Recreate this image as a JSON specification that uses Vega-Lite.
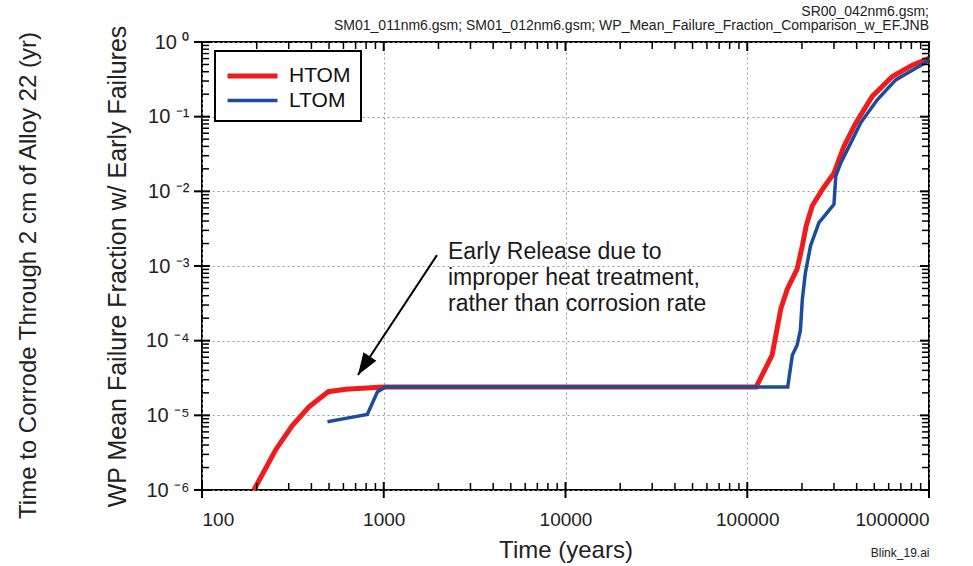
{
  "$schema": "https://vega.github.io/schema/vega-lite/v6.json",
  "width": 727,
  "height": 448,
  "autosize": {"type": "none"},
  "padding": {"left": 202, "top": 42, "right": 44, "bottom": 76},
  "background": "white",
  "title": {
    "text": ["SR00_042nm6.gsm;", "SM01_011nm6.gsm; SM01_012nm6.gsm; WP_Mean_Failure_Fraction_Comparison_w_EF.JNB"],
    "anchor": "end",
    "frame": "group",
    "fontSize": 14,
    "lineHeight": 14,
    "fontWeight": "normal",
    "font": "Liberation Sans",
    "color": "#222222",
    "offset": 6,
    "dy": 14
  },
  "config": {
    "view": {"stroke": "black", "strokeWidth": 2},
    "axis": {
      "labelFont": "Liberation Sans",
      "titleFont": "Liberation Sans",
      "titleFontWeight": "normal",
      "labelColor": "#222222",
      "titleColor": "#222222",
      "tickColor": "black",
      "domain": false,
      "grid": false
    },
    "legend": {
      "orient": "none",
      "legendX": 13,
      "legendY": 9,
      "padding": 10,
      "strokeColor": "black",
      "strokeWidth": 2,
      "fillColor": "white",
      "labelFont": "Liberation Sans",
      "labelFontSize": 21,
      "labelColor": "#111111",
      "labelOffset": 34,
      "rowPadding": 0,
      "symbolType": "M-1,0L3,0",
      "symbolSize": 625,
      "symbolStrokeWidth": 4.5
    }
  },
  "datasets": {
    "curves": [
      {"series": "HTOM", "t": 193, "f": 1e-6},
      {"series": "HTOM", "t": 254, "f": 3.44e-6},
      {"series": "HTOM", "t": 314, "f": 7.3e-6},
      {"series": "HTOM", "t": 388, "f": 1.3e-5},
      {"series": "HTOM", "t": 495, "f": 2.07e-5},
      {"series": "HTOM", "t": 617, "f": 2.24e-5},
      {"series": "HTOM", "t": 1000, "f": 2.4e-5},
      {"series": "HTOM", "t": 112000, "f": 2.4e-5},
      {"series": "HTOM", "t": 137000, "f": 6.4e-5},
      {"series": "HTOM", "t": 153000, "f": 2.67e-4},
      {"series": "HTOM", "t": 166000, "f": 4.9e-4},
      {"series": "HTOM", "t": 188000, "f": 9.1e-4},
      {"series": "HTOM", "t": 201000, "f": 1.87e-3},
      {"series": "HTOM", "t": 211000, "f": 3.45e-3},
      {"series": "HTOM", "t": 228000, "f": 6.4e-3},
      {"series": "HTOM", "t": 259000, "f": 1.06e-2},
      {"series": "HTOM", "t": 300000, "f": 1.75e-2},
      {"series": "HTOM", "t": 320000, "f": 2.67e-2},
      {"series": "HTOM", "t": 340000, "f": 0.040},
      {"series": "HTOM", "t": 395000, "f": 0.082},
      {"series": "HTOM", "t": 487000, "f": 0.187},
      {"series": "HTOM", "t": 628000, "f": 0.345},
      {"series": "HTOM", "t": 809000, "f": 0.49},
      {"series": "HTOM", "t": 1000000, "f": 0.606},
      {"series": "LTOM", "t": 490, "f": 8.2e-6},
      {"series": "LTOM", "t": 617, "f": 9.1e-6},
      {"series": "LTOM", "t": 812, "f": 1.03e-5},
      {"series": "LTOM", "t": 923, "f": 2.07e-5},
      {"series": "LTOM", "t": 1024, "f": 2.4e-5},
      {"series": "LTOM", "t": 167000, "f": 2.4e-5},
      {"series": "LTOM", "t": 177000, "f": 6.4e-5},
      {"series": "LTOM", "t": 188000, "f": 8.7e-5},
      {"series": "LTOM", "t": 196000, "f": 1.37e-4},
      {"series": "LTOM", "t": 201000, "f": 3.6e-4},
      {"series": "LTOM", "t": 209000, "f": 8.2e-4},
      {"series": "LTOM", "t": 223000, "f": 1.87e-3},
      {"series": "LTOM", "t": 248000, "f": 3.8e-3},
      {"series": "LTOM", "t": 300000, "f": 6.7e-3},
      {"series": "LTOM", "t": 307000, "f": 1.6e-2},
      {"series": "LTOM", "t": 327000, "f": 2.4e-2},
      {"series": "LTOM", "t": 363000, "f": 0.040},
      {"series": "LTOM", "t": 420000, "f": 0.082},
      {"series": "LTOM", "t": 519000, "f": 0.168},
      {"series": "LTOM", "t": 656000, "f": 0.311},
      {"series": "LTOM", "t": 845000, "f": 0.446},
      {"series": "LTOM", "t": 1000000, "f": 0.563}
    ],
    "xmajor": [{"v": 100}, {"v": 1000}, {"v": 10000}, {"v": 100000}, {"v": 1000000}],
    "xminor": [
      {"v": 200}, {"v": 300}, {"v": 400}, {"v": 500}, {"v": 600}, {"v": 700}, {"v": 800}, {"v": 900},
      {"v": 2000}, {"v": 3000}, {"v": 4000}, {"v": 5000}, {"v": 6000}, {"v": 7000}, {"v": 8000}, {"v": 9000},
      {"v": 20000}, {"v": 30000}, {"v": 40000}, {"v": 50000}, {"v": 60000}, {"v": 70000}, {"v": 80000}, {"v": 90000},
      {"v": 200000}, {"v": 300000}, {"v": 400000}, {"v": 500000}, {"v": 600000}, {"v": 700000}, {"v": 800000}, {"v": 900000}
    ],
    "ymajor": [{"v": 1}, {"v": 0.1}, {"v": 0.01}, {"v": 0.001}, {"v": 0.0001}, {"v": 0.00001}, {"v": 0.000001}],
    "yminor": [
      {"v": 2e-6}, {"v": 3e-6}, {"v": 4e-6}, {"v": 5e-6}, {"v": 6e-6}, {"v": 7e-6}, {"v": 8e-6}, {"v": 9e-6},
      {"v": 2e-5}, {"v": 3e-5}, {"v": 4e-5}, {"v": 5e-5}, {"v": 6e-5}, {"v": 7e-5}, {"v": 8e-5}, {"v": 9e-5},
      {"v": 2e-4}, {"v": 3e-4}, {"v": 4e-4}, {"v": 5e-4}, {"v": 6e-4}, {"v": 7e-4}, {"v": 8e-4}, {"v": 9e-4},
      {"v": 2e-3}, {"v": 3e-3}, {"v": 4e-3}, {"v": 5e-3}, {"v": 6e-3}, {"v": 7e-3}, {"v": 8e-3}, {"v": 9e-3},
      {"v": 2e-2}, {"v": 3e-2}, {"v": 4e-2}, {"v": 5e-2}, {"v": 6e-2}, {"v": 7e-2}, {"v": 8e-2}, {"v": 9e-2},
      {"v": 0.2}, {"v": 0.3}, {"v": 0.4}, {"v": 0.5}, {"v": 0.6}, {"v": 0.7}, {"v": 0.8}, {"v": 0.9}
    ]
  },
  "resolve": {"axis": {"x": "independent", "y": "independent"}},
  "layer": [
    {
      "data": {"name": "curves"},
      "mark": {"type": "line", "interpolate": "linear"},
      "encoding": {
        "x": {
          "field": "t", "type": "quantitative",
          "scale": {"type": "log", "domain": [100, 1000000], "nice": false},
          "axis": {
            "orient": "bottom",
            "values": [100, 1000, 10000, 100000, 1000000],
            "labelExpr": "format(datum.value, 'd')",
            "labelFontSize": 19,
            "labelPadding": 20,
            "ticks": false,
            "grid": true,
            "gridColor": "#9a9a9a",
            "gridDash": [2, 3],
            "gridWidth": 1,
            "title": "Time (years)",
            "titleFontSize": 24,
            "titleBaseline": "middle",
            "titleY": 60
          }
        },
        "y": {
          "field": "f", "type": "quantitative",
          "scale": {"type": "log", "domain": [0.000001, 1], "nice": false},
          "axis": {
            "orient": "left",
            "values": [1, 0.1, 0.01, 0.001, 0.0001, 0.00001, 0.000001],
            "labelExpr": "'10' + (round(log(datum.value)/LN10) == 0 ? ' ⁰' : round(log(datum.value)/LN10) == -1 ? ' ⁻¹' : round(log(datum.value)/LN10) == -2 ? ' ⁻²' : round(log(datum.value)/LN10) == -3 ? ' ⁻³' : round(log(datum.value)/LN10) == -4 ? ' ⁻⁴' : round(log(datum.value)/LN10) == -5 ? ' ⁻⁵' : ' ⁻⁶')",
            "labelFontSize": 20,
            "labelPadding": 13,
            "ticks": false,
            "grid": true,
            "gridColor": "#9a9a9a",
            "gridDash": [2, 3],
            "gridWidth": 1,
            "title": "WP Mean Failure Fraction w/ Early Failures",
            "titleFontSize": 25,
            "titleBaseline": "alphabetic",
            "titleX": -77,
            "titleY": 224
          }
        },
        "color": {
          "field": "series", "type": "nominal",
          "scale": {"domain": ["HTOM", "LTOM"], "range": ["#ee1c1c", "#1c4c9c"]},
          "legend": {"title": null}
        },
        "strokeWidth": {
          "field": "series", "type": "nominal",
          "scale": {"domain": ["HTOM", "LTOM"], "range": [5, 3.5]},
          "legend": null
        }
      }
    },
    {
      "data": {"values": [{"x": 1963, "y": 0.0014, "x2": 721, "y2": 0.0000347}]},
      "mark": {"type": "rule", "color": "black", "strokeWidth": 2},
      "encoding": {
        "x": {
          "field": "x", "type": "quantitative",
          "scale": {"type": "log", "domain": [100, 1000000], "nice": false},
          "axis": {
            "orient": "bottom", "labels": false, "ticks": false, "grid": false,
            "title": "Blink_19.ai", "titleFontSize": 12, "titleAnchor": "end", "titleAlign": "right",
            "titleBaseline": "middle", "titleY": 62
          }
        },
        "y": {
          "field": "y", "type": "quantitative",
          "scale": {"type": "log", "domain": [0.000001, 1], "nice": false},
          "axis": {
            "orient": "left", "labels": false, "ticks": false, "grid": false,
            "title": "Time to Corrode Through 2 cm of Alloy 22 (yr)", "titleFontSize": 24,
            "titleBaseline": "alphabetic", "titleX": -167, "titleY": 233
          }
        },
        "x2": {"field": "x2"},
        "y2": {"field": "y2"}
      }
    },
    {
      "data": {"values": [{"x": 721, "y": 0.0000347}]},
      "mark": {"type": "point", "shape": "M0,0L0.35,1L-0.35,1Z", "filled": true, "color": "black", "opacity": 1, "size": 1936, "angle": 213, "strokeWidth": 0},
      "encoding": {
        "x": {"field": "x", "type": "quantitative", "scale": {"type": "log", "domain": [100, 1000000], "nice": false}, "axis": null},
        "y": {"field": "y", "type": "quantitative", "scale": {"type": "log", "domain": [0.000001, 1], "nice": false}, "axis": null}
      }
    },
    {
      "data": {"values": [{"x": 2257, "y": 0.00216, "label": "Early Release due to\nimproper heat treatment,\nrather than corrosion rate"}]},
      "mark": {"type": "text", "align": "left", "baseline": "top", "lineBreak": "\n", "lineHeight": 26, "fontSize": 23, "font": "Liberation Sans", "color": "#1a1a1a"},
      "encoding": {
        "x": {"field": "x", "type": "quantitative", "scale": {"type": "log", "domain": [100, 1000000], "nice": false}, "axis": null},
        "y": {"field": "y", "type": "quantitative", "scale": {"type": "log", "domain": [0.000001, 1], "nice": false}, "axis": null},
        "text": {"field": "label", "type": "nominal"}
      }
    },
    {
      "data": {"name": "xmajor"},
      "mark": {"type": "tick", "orient": "vertical", "size": 16, "thickness": 2, "color": "black", "opacity": 1},
      "encoding": {
        "x": {"field": "v", "type": "quantitative", "scale": {"type": "log", "domain": [100, 1000000], "nice": false}, "axis": null},
        "y": {"datum": 0.000001, "type": "quantitative", "scale": {"type": "log", "domain": [0.000001, 1], "nice": false}, "axis": null}
      }
    },
    {
      "data": {"name": "xminor"},
      "mark": {"type": "tick", "orient": "vertical", "size": 7, "thickness": 1.5, "color": "black", "opacity": 1, "yOffset": -3.5},
      "encoding": {
        "x": {"field": "v", "type": "quantitative", "scale": {"type": "log", "domain": [100, 1000000], "nice": false}, "axis": null},
        "y": {"datum": 0.000001, "type": "quantitative", "scale": {"type": "log", "domain": [0.000001, 1], "nice": false}, "axis": null}
      }
    },
    {
      "data": {"name": "xmajor"},
      "mark": {"type": "tick", "orient": "vertical", "size": 9, "thickness": 2, "color": "black", "opacity": 1, "yOffset": 4.5},
      "encoding": {
        "x": {"field": "v", "type": "quantitative", "scale": {"type": "log", "domain": [100, 1000000], "nice": false}, "axis": null},
        "y": {"datum": 1, "type": "quantitative", "scale": {"type": "log", "domain": [0.000001, 1], "nice": false}, "axis": null}
      }
    },
    {
      "data": {"name": "xminor"},
      "mark": {"type": "tick", "orient": "vertical", "size": 7, "thickness": 1.5, "color": "black", "opacity": 1, "yOffset": 3.5},
      "encoding": {
        "x": {"field": "v", "type": "quantitative", "scale": {"type": "log", "domain": [100, 1000000], "nice": false}, "axis": null},
        "y": {"datum": 1, "type": "quantitative", "scale": {"type": "log", "domain": [0.000001, 1], "nice": false}, "axis": null}
      }
    },
    {
      "data": {"name": "ymajor"},
      "mark": {"type": "tick", "orient": "horizontal", "size": 16, "thickness": 2, "color": "black", "opacity": 1},
      "encoding": {
        "y": {"field": "v", "type": "quantitative", "scale": {"type": "log", "domain": [0.000001, 1], "nice": false}, "axis": null},
        "x": {"datum": 100, "type": "quantitative", "scale": {"type": "log", "domain": [100, 1000000], "nice": false}, "axis": null}
      }
    },
    {
      "data": {"name": "yminor"},
      "mark": {"type": "tick", "orient": "horizontal", "size": 7, "thickness": 1.5, "color": "black", "opacity": 1, "xOffset": 3.5},
      "encoding": {
        "y": {"field": "v", "type": "quantitative", "scale": {"type": "log", "domain": [0.000001, 1], "nice": false}, "axis": null},
        "x": {"datum": 100, "type": "quantitative", "scale": {"type": "log", "domain": [100, 1000000], "nice": false}, "axis": null}
      }
    },
    {
      "data": {"name": "ymajor"},
      "mark": {"type": "tick", "orient": "horizontal", "size": 9, "thickness": 2, "color": "black", "opacity": 1, "xOffset": -4.5},
      "encoding": {
        "y": {"field": "v", "type": "quantitative", "scale": {"type": "log", "domain": [0.000001, 1], "nice": false}, "axis": null},
        "x": {"datum": 1000000, "type": "quantitative", "scale": {"type": "log", "domain": [100, 1000000], "nice": false}, "axis": null}
      }
    },
    {
      "data": {"name": "yminor"},
      "mark": {"type": "tick", "orient": "horizontal", "size": 7, "thickness": 1.5, "color": "black", "opacity": 1, "xOffset": -3.5},
      "encoding": {
        "y": {"field": "v", "type": "quantitative", "scale": {"type": "log", "domain": [0.000001, 1], "nice": false}, "axis": null},
        "x": {"datum": 1000000, "type": "quantitative", "scale": {"type": "log", "domain": [100, 1000000], "nice": false}, "axis": null}
      }
    }
  ]
}
